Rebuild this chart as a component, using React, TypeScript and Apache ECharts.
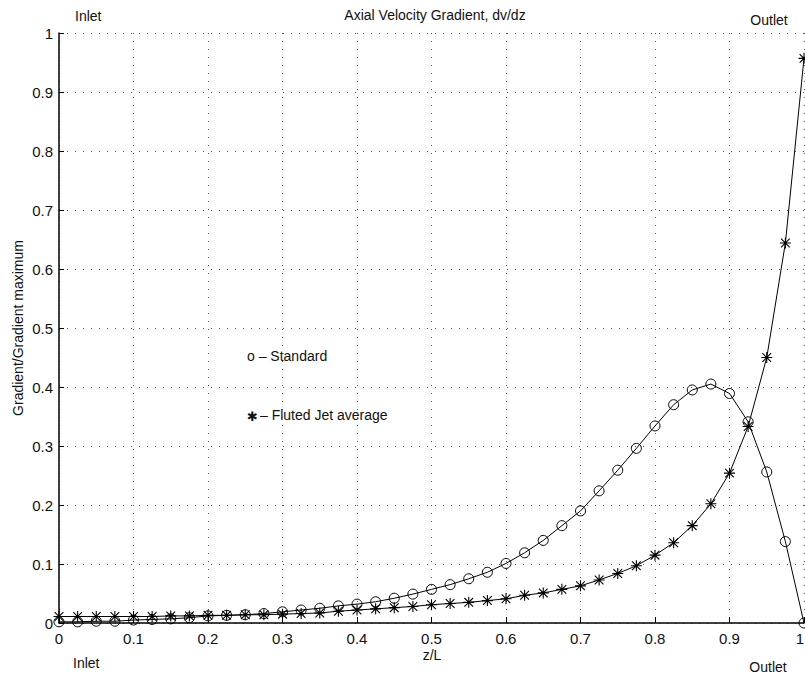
import React, { useEffect, useRef } from "react";
import * as echarts from "echarts";

const zL = [0, 0.025, 0.05, 0.075, 0.1, 0.125, 0.15, 0.175, 0.2, 0.225, 0.25, 0.275, 0.3, 0.325, 0.35, 0.375, 0.4, 0.425, 0.45, 0.475, 0.5, 0.525, 0.55, 0.575, 0.6, 0.625, 0.65, 0.675, 0.7, 0.725, 0.75, 0.775, 0.8, 0.825, 0.85, 0.875, 0.9, 0.925, 0.95, 0.975, 1];
const standard = [0.002, 0.002, 0.003, 0.003, 0.005, 0.006, 0.007, 0.009, 0.012, 0.013, 0.014, 0.016, 0.019, 0.022, 0.025, 0.029, 0.032, 0.036, 0.042, 0.049, 0.057, 0.065, 0.075, 0.086, 0.101, 0.119, 0.14, 0.165, 0.19, 0.224, 0.259, 0.296, 0.334, 0.37, 0.395, 0.405, 0.389, 0.341, 0.256, 0.138, 0];
const flutedJet = [0.011, 0.011, 0.011, 0.011, 0.011, 0.011, 0.012, 0.012, 0.013, 0.013, 0.014, 0.014, 0.015, 0.016, 0.017, 0.02, 0.022, 0.024, 0.026, 0.028, 0.031, 0.033, 0.035, 0.038, 0.041, 0.047, 0.051, 0.057, 0.063, 0.073, 0.084, 0.097, 0.115, 0.136, 0.165, 0.202, 0.254, 0.333, 0.45, 0.644, 0.957];

const title = "Axial Velocity Gradient, dv/dz";
const yName = "Gradient/Gradient maximum";
const xName = "z/L";
const legendStandard = "o – Standard";
const legendFluted = "– Fluted Jet average";

const STAR =
  "path://M9,0 L11,0 L11,20 L9,20 Z M0,9 L20,9 L20,11 L0,11 Z M1.4,2.8 L2.8,1.4 L18.6,17.2 L17.2,18.6 Z M17.2,1.4 L18.6,2.8 L2.8,18.6 L1.4,17.2 Z";

const FONT = "'Liberation Sans', Arial, Helvetica, sans-serif";

export default function App() {
  const ref = useRef<HTMLDivElement>(null);
  useEffect(() => {
    if (!ref.current) return;
    const chart = echarts.init(ref.current, undefined, { renderer: "svg" });
    const gridDash = { color: "#555", width: 1, type: [1, 7] as any };
    const txt = (text: string, x: number, y: number, size = 14, align = "left", extra: any = {}) => ({
      type: "text",
      x,
      y,
      style: { text, fill: "#111", font: `${size}px ${FONT}`, textAlign: align, textVerticalAlign: "middle" },
      ...extra,
    });
    chart.setOption({
      animation: false,
      backgroundColor: "#fff",
      grid: { left: 59, right: 1, top: 33, bottom: 56, containLabel: false, outerBoundsMode: "none" },
      xAxis: {
        type: "value",
        min: 0,
        max: 1,
        interval: 0.1,
        axisLine: { show: true, onZero: false, lineStyle: { color: "#000", width: 1.5 } },
        axisTick: { show: true, inside: true, length: 6, lineStyle: { color: "#000" } },
        axisLabel: { color: "#111", fontSize: 15, fontFamily: FONT, margin: 8, alignMaxLabel: "right" },
        splitLine: { show: true, lineStyle: gridDash },
      },
      yAxis: {
        type: "value",
        min: 0,
        max: 1,
        interval: 0.1,
        axisLine: { show: true, onZero: false, lineStyle: { color: "#000", width: 1.5 } },
        axisTick: { show: true, inside: true, length: 5, lineStyle: { color: "#000" } },
        axisLabel: { color: "#111", fontSize: 15, fontFamily: FONT, margin: 6 },
        splitLine: { show: true, lineStyle: gridDash },
      },
      series: [
        {
          name: "Standard",
          type: "line",
          data: zL.map((x, i) => [x, standard[i]]),
          symbol: "circle",
          symbolSize: 10,
          showAllSymbol: true,
          lineStyle: { color: "#000", width: 1 },
          itemStyle: { color: "rgba(0,0,0,0)", borderColor: "#000", borderWidth: 1 },
          z: 3,
        },
        {
          name: "Fluted Jet average",
          type: "line",
          data: zL.map((x, i) => [x, flutedJet[i]]),
          symbol: STAR,
          symbolSize: 11,
          showAllSymbol: true,
          lineStyle: { color: "#000", width: 1 },
          itemStyle: { color: "#000" },
          z: 3,
        },
      ],
      graphic: [
        txt("Inlet", 75, 16, 14),
        txt(title, 435, 15, 14, "center"),
        txt("Outlet", 769, 20, 14, "center"),
        txt("Inlet", 73, 663, 14),
        txt(xName, 432, 655, 14, "center"),
        txt("Outlet", 768, 667, 14, "center"),
        txt(yName, 18, 328, 14, "center", { rotation: Math.PI / 2 }),
        txt(legendStandard, 247, 356, 14),
        {
          type: "text",
          x: 247,
          y: 416,
          style: { text: "✱", fill: "#111", font: `13px 'DejaVu Sans', sans-serif`, textAlign: "left", textVerticalAlign: "middle" },
        },
        txt(legendFluted, 260, 415, 14),
      ],
    });
    return () => chart.dispose();
  }, []);
  return <div ref={ref} style={{ position: "fixed", left: 0, top: 0, width: 805, height: 679 }} />;
}
